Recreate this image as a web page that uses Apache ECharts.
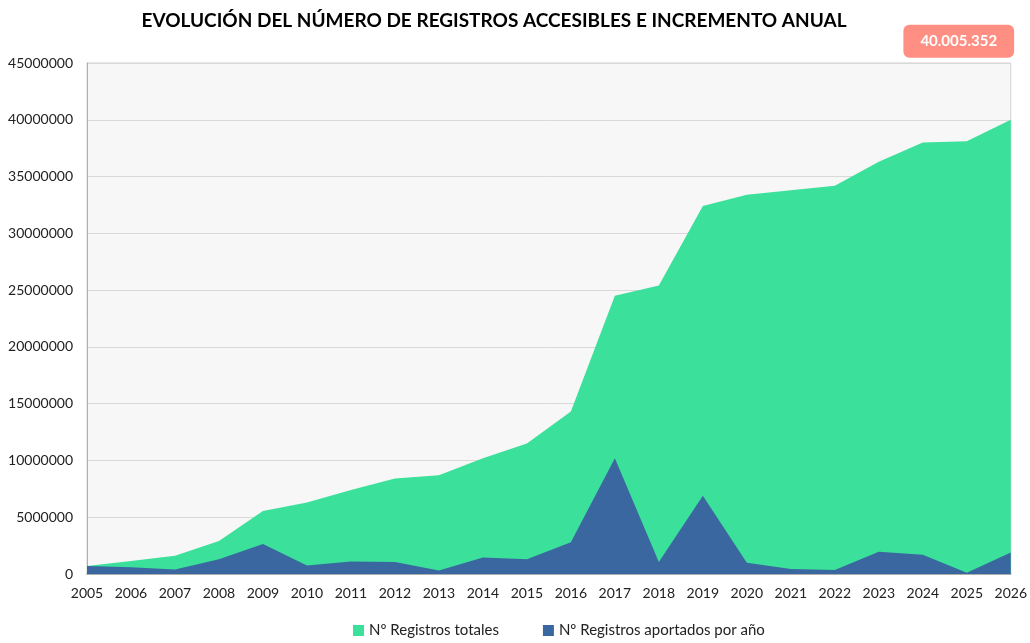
<!DOCTYPE html>
<html>
<head>
<meta charset="utf-8">
<script src="https://cdn.jsdelivr.net/npm/echarts@6/dist/echarts.min.js"></script>
<style>
  html, body { margin: 0; padding: 0; background: #fff; }
  #main { width: 1030px; height: 643px; }
</style>
</head>
<body>
<div id="main"></div>
<script>
var years = ['2005','2006','2007','2008','2009','2010','2011','2012','2013','2014','2015',
             '2016','2017','2018','2019','2020','2021','2022','2023','2024','2025','2026'];
// Nº Registros totales
var totales = [700000, 1150000, 1600000, 2900000, 5550000, 6300000, 7400000, 8400000, 8700000,
               10200000, 11500000, 14300000, 24500000, 25400000, 32400000, 33400000, 33800000,
               34200000, 36300000, 38000000, 38100000, 40005352];
// Nº Registros aportados por año
var aportados = [700000, 600000, 400000, 1300000, 2650000, 750000, 1100000, 1050000, 300000,
                 1450000, 1300000, 2800000, 10200000, 1050000, 6900000, 1000000, 450000,
                 350000, 1950000, 1700000, 100000, 1900000];
var yTicks = { min: 0, max: 45000000, interval: 5000000 };

var fontFam = 'Lato, "Open Sans", sans-serif';

var myChart = echarts.init(document.getElementById('main'));

// etiqueta solo en el último punto
var totalData = totales.map(function (v, i) {
    if (i == totales.length - 1) {
        return {
            value: v,
            label: {
                show: true,
                position: 'top',
                distance: 0,
                offset: [-52, -62],
                formatter: function (p) {
                    return p.value.toString().replace(/\B(?=(\d{3})+(?!\d))/g, '.');
                },
                backgroundColor: '#ff8f82',
                borderRadius: 6,
                padding: [9, 17, 9, 17],
                color: '#fff',
                fontWeight: 'bold',
                fontSize: 15,
                fontFamily: fontFam
            }
        };
    }
    return v;
});

var option = {
    backgroundColor: '#fff',
    animation: false,
    title: {
        text: 'EVOLUCIÓN DEL NÚMERO DE REGISTROS ACCESIBLES E INCREMENTO ANUAL',
        left: 489,
        textAlign: 'center',
        top: 6,
        textStyle: {
            fontFamily: fontFam,
            fontWeight: 'bold',
            fontSize: 19,
            color: '#000'
        }
    },
    legend: {
        bottom: 0,
        left: 348,
        itemWidth: 11,
        itemHeight: 11,
        itemGap: 44,
        icon: 'rect',
        textStyle: { fontFamily: fontFam, fontSize: 15, color: '#222' },
        data: ['Nº Registros totales', 'Nº Registros aportados por año']
    },
    grid: {
        left: 87,
        right: 16,
        top: 63,
        bottom: 69,
        show: true,
        backgroundColor: '#f7f7f7',
        borderColor: '#d0d0d0',
        borderWidth: 1
    },
    xAxis: {
        type: 'category',
        data: years,
        boundaryGap: false,
        axisLine: { lineStyle: { color: '#a0a0a0', width: 1.5 } },
        axisTick: { show: false },
        axisLabel: { fontFamily: fontFam, fontSize: 14, color: '#222', margin: 12 }
    },
    yAxis: {
        type: 'value',
        min: yTicks.min,
        max: yTicks.max,
        interval: yTicks.interval,
        axisLine: { show: true, lineStyle: { color: '#b0b0b0' } },
        axisTick: { show: false },
        splitLine: { lineStyle: { color: '#d9d9d9' } },
        axisLabel: {
            fontFamily: fontFam, fontSize: 14, color: '#222', margin: 14,
            formatter: function (v) { return String(v); }
        }
    },
    series: [
        {
            name: 'Nº Registros totales',
            type: 'line',
            data: totalData,
            symbol: 'circle',
            symbolSize: 0,
            showSymbol: true,
            showAllSymbol: true,
            lineStyle: { width: 0 },
            itemStyle: { color: '#3be09a' },
            areaStyle: { color: '#3be09a', opacity: 1 }
        },
        {
            name: 'Nº Registros aportados por año',
            type: 'line',
            data: aportados,
            symbol: 'none',
            lineStyle: { width: 0 },
            itemStyle: { color: '#3a67a0' },
            areaStyle: { color: '#3a67a0', opacity: 1 }
        }
    ]
};
myChart.setOption(option);
</script>
</body>
</html>
